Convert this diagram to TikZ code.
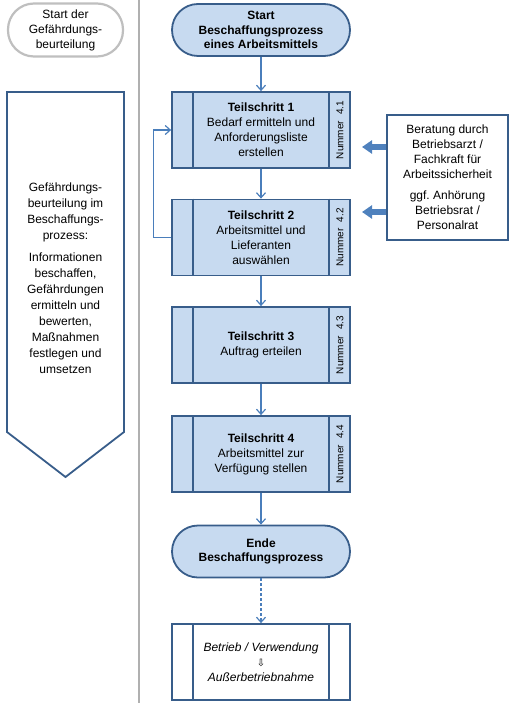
\documentclass[tikz,border=0pt]{standalone}
\usepackage{fontspec}
\setmainfont{Liberation Sans}
\newfontfamily\symfont{DejaVu Sans}
\usetikzlibrary{arrows.meta,positioning,calc}
\definecolor{stepfill}{RGB}{199,218,240}
\definecolor{frameblue}{RGB}{56,93,138}
\definecolor{lineblue}{RGB}{74,126,187}
\definecolor{arrowfill}{RGB}{79,129,189}
\definecolor{greyline}{RGB}{176,176,176}
\definecolor{greyframe}{RGB}{191,191,191}
\tikzset{
  txt/.style={font=\fontsize{12pt}{15pt}\selectfont,align=center,inner sep=0pt},
  stepbox/.style={rectangle,draw=frameblue,line width=1.8pt,fill=stepfill,
    minimum width=178pt,minimum height=76pt,txt},
  endbox/.style={stepbox,fill=white,font=\fontsize{12pt}{15pt}\selectfont\itshape},
  terminal/.style={rectangle,rounded corners=26pt,draw=frameblue,line width=1.8pt,fill=stepfill,
    minimum width=178pt,minimum height=52pt,txt,font=\fontsize{12pt}{14.5pt}\selectfont\bfseries},
  startgb/.style={rectangle,rounded corners=26pt,draw=greyframe,line width=2.2pt,fill=white,
    minimum width=115pt,minimum height=53pt,txt},
  infobox/.style={rectangle,draw=frameblue,line width=1.8pt,fill=white,
    minimum width=121pt,minimum height=125pt,txt},
  nummer/.style={rotate=90,font=\fontsize{10pt}{12pt}\selectfont,inner sep=0pt},
  frame/.style={draw=frameblue,line width=1.8pt},
  arrow/.style={-{Straight Barb[length=5pt,width=9pt]},draw=lineblue,line width=1.2pt},
  dasharrow/.style={arrow,dash pattern=on 3pt off 2pt},
  bigarrow/.style={-{Triangle[length=10pt,width=13pt]},draw=arrowfill,line width=5.5pt},
  divider/.style={draw=greyline,line width=2.2pt}
}
\begin{document}
\begin{tikzpicture}[x=1pt,y=-1pt]
  \useasboundingbox (0,0) rectangle (512,703);
  \draw[divider] (139,0) -- (139,703);

  \node[startgb] (startgb) at (65.5,30) {Start der\\Gefährdungs-\\beurteilung};
  \draw[frame,fill=white] (7,92) -- (124,92) -- (124,432) -- (65.5,477) -- (7,432) -- cycle;
  \node[txt,font=\fontsize{12pt}{16pt}\selectfont] (gbtext) at (65.5,278)
    {Gefährdungs-\\beurteilung im\\Beschaffungs-\\prozess:\\[6pt]Informationen\\beschaffen,\\Gefährdungen\\ermitteln und\\bewerten,\\Maßnahmen\\festlegen und\\umsetzen};

  \node[terminal] (start) at (261,30) {Start\\Beschaffungsprozess\\eines Arbeitsmittels};
  \node[stepbox] (t1) at (261,130) {\textbf{Teilschritt 1}\\Bedarf ermitteln und\\Anforderungsliste\\erstellen};
  \node[stepbox] (t2) at (261,237.5) {\textbf{Teilschritt 2}\\Arbeitsmittel und\\Lieferanten\\auswählen};
  \node[stepbox] (t3) at (261,345) {\textbf{Teilschritt 3}\\Auftrag erteilen};
  \node[stepbox] (t4) at (261,454) {\textbf{Teilschritt 4}\\Arbeitsmittel zur\\Verfügung stellen};
  \node[terminal] (ende) at (261,551.5) {Ende\\Beschaffungsprozess};
  \node[endbox] (betrieb) at (261,662) {Betrieb / Verwendung\\{\symfont\upshape\fontsize{10pt}{15pt}\selectfont ⇩}\\Außerbetriebnahme};
  \node[infobox] (rat) at (447.5,177.5) {Beratung durch\\Betriebsarzt /\\Fachkraft für\\Arbeitssicherheit\\[6pt]ggf.\ Anhörung\\Betriebsrat /\\Personalrat};

  \foreach \n/\k in {t1/4.1,t2/4.2,t3/4.3,t4/4.4} {
    \node[nummer] at ([xshift=-11pt]\n.east) {Nummer\hspace{0.6em}\k};
  }
  \foreach \n in {t1,t2,t3,t4,betrieb} {
    \draw[frame] ([xshift=22pt]\n.north west) -- ([xshift=22pt]\n.south west);
    \draw[frame] ([xshift=-22pt]\n.north east) -- ([xshift=-22pt]\n.south east);
  }

  \draw[arrow] (start) -- (t1);
  \draw[arrow] (t1) -- (t2);
  \draw[arrow] (t2) -- (t3);
  \draw[arrow] (t3) -- (t4);
  \draw[arrow] (t4) -- (ende);
  \draw[dasharrow] (ende) -- (betrieb);
  \draw[arrow] (t2.west) -- ++(-18,0) |- (t1.west);
  \draw[bigarrow] (rat.west |- 0,147) -- (362,147);
  \draw[bigarrow] (rat.west |- 0,212) -- (362,212);
\end{tikzpicture}
\end{document}
